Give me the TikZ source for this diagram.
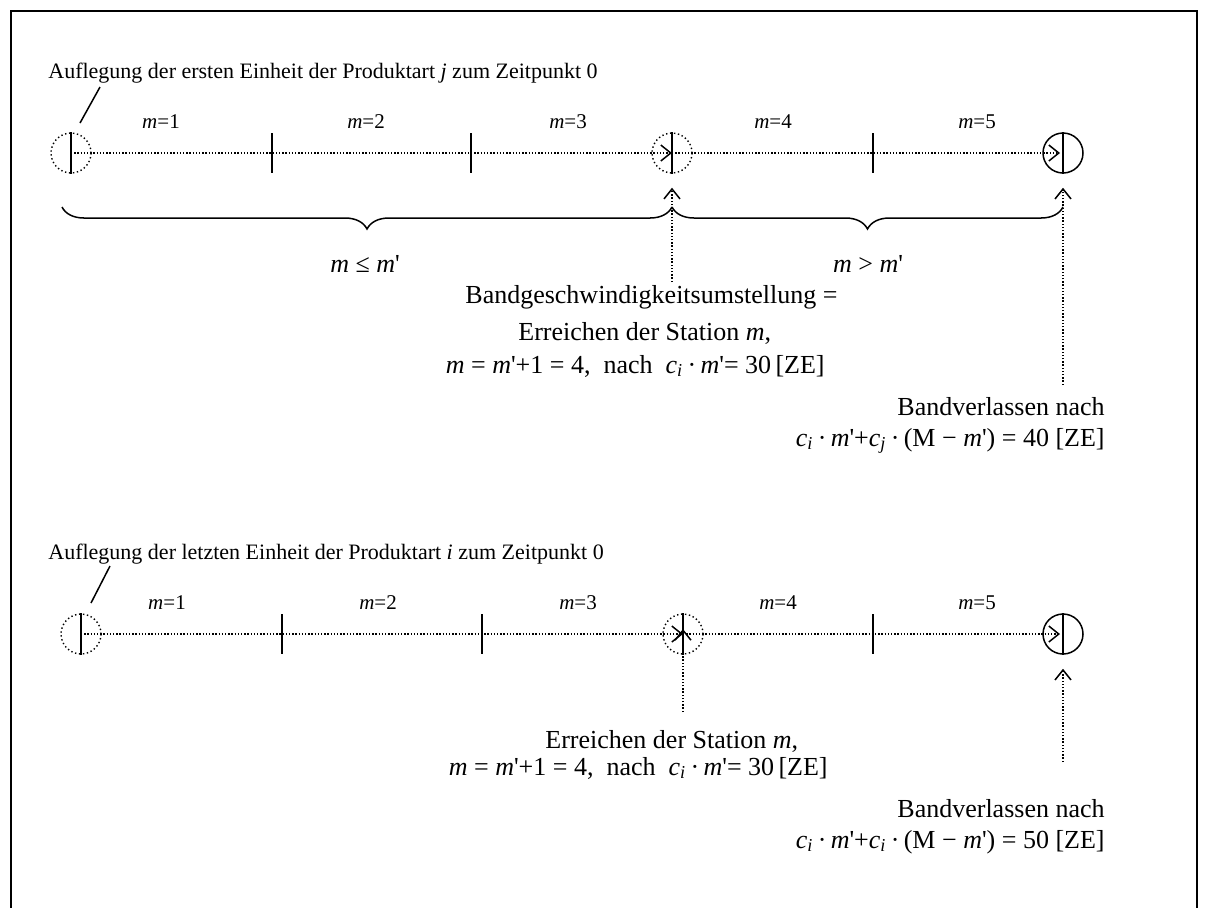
\documentclass[tikz,border=0pt]{standalone}
\usepackage{fontspec}
\setmainfont{Liberation Serif}[Ligatures=TeXOff]
\usetikzlibrary{arrows.meta,decorations.pathreplacing}
\newcommand\mi[1]{\textit{#1}}
\newcommand\subi[1]{\textsubscript{\textit{#1}}}
\begin{document}
\begin{tikzpicture}[x=0.5pt,y=-0.5pt,
  solidline/.style={line width=0.75pt},
  dotline/.style={line width=0.7pt, dash pattern=on 0.7pt off 0.9pt},
  dotcirc/.style={circle, draw, line width=0.7pt, dash pattern=on 0.7pt off 1.3pt,
    minimum size=20pt, inner sep=0pt},
  solidcirc/.style={circle, draw, line width=0.75pt, minimum size=20pt, inner sep=0pt},
  barb/.style={-{Straight Barb[length=5pt,width=8pt,line width=0.75pt]}},
  big/.style={font=\fontsize{13}{15}\selectfont, inner sep=0pt},
  small/.style={font=\fontsize{10.5}{12}\selectfont, inner sep=0pt},
  caption/.style={font=\fontsize{11}{13}\selectfont, inner sep=0pt},
  tick/.style={solidline},
  curly/.style={solidline, decorate, decoration={brace, mirror, amplitude=11pt}},
]
\useasboundingbox (0,0) rectangle (1208,907);
\draw[line width=1pt] (11,930) -- (11,11) -- (1197,11) -- (1197,930);

% ---------- upper line: first unit of product j ----------
\node[caption, anchor=base west] (capA) at (48,78)
  {Auflegung der ersten Einheit der Produktart \mi{j} zum Zeitpunkt 0};
\coordinate (slA1) at (100,87);
\coordinate (slA2) at (80,123);
\draw[solidline] (slA1) -- (slA2);

\node[dotcirc] (a0) at (71,153) {};
\node[dotcirc] (a3) at (672,153) {};
\node[solidcirc] (a5) at (1063,153) {};
\coordinate (a1) at (272,153);
\coordinate (a2) at (471,153);
\coordinate (a4) at (873,153);

\draw[dotline, barb] (a0.center) -- (a3.center);
\draw[dotline, barb] (a3.center) -- ([xshift=-1.5pt]a5.center);
\foreach \n in {a0,a3,a5} \draw[solidline] (\n.north) -- (\n.south);
\foreach \n in {a1,a2,a4} \draw[tick] (\n) ++(0,-20) -- ++(0,40);

\node[small, anchor=base] (la1) at (161,128) {\mi{m}=1};
\node[small, anchor=base] (la2) at (366,128) {\mi{m}=2};
\node[small, anchor=base] (la3) at (568,128) {\mi{m}=3};
\node[small, anchor=base] (la4) at (773,128) {\mi{m}=4};
\node[small, anchor=base] (la5) at (977,128) {\mi{m}=5};

\coordinate (brA0) at (62,207);
\coordinate (brA1) at (672,207);
\coordinate (brA2) at (1063,207);
\draw[curly] (brA0) -- (brA1);
\draw[curly] (brA1) -- (brA2);
\node[big, anchor=base] (leA) at (365,272) {\mi{m} ≤ \mi{m}'};
\node[big, anchor=base] (gtA) at (868,272) {\mi{m} > \mi{m}'};

\coordinate (upA3) at (672,282);
\draw[dotline, barb] (upA3) -- ([yshift=-7pt]a3.south);
\node[big, anchor=base west] (tA1) at (465,303) {Bandgeschwindigkeitsumstellung =};
\node[big, anchor=base west] (tA2) at (518,340) {Erreichen der Station \mi{m},};
\node[big, anchor=base east] (tA3) at (825,373)
  {\mi{m} = \mi{m}'+1 = 4,\ \ nach\ \ \mi{c}\subi{i}\,·\,\mi{m}'= 30\,[ZE]};

\coordinate (upA5) at (1063,385);
\draw[dotline, barb] (upA5) -- ([yshift=-7pt]a5.south);
\node[big, anchor=base east] (vA1) at (1105,415) {Bandverlassen nach};
\node[big, anchor=base east] (vA2) at (1105,446)
  {\mi{c}\subi{i}\,·\,\mi{m}'+\mi{c}\subi{j}\,·\,(M − \mi{m}') = 40 [ZE]};

% ---------- lower line: last unit of product i ----------
\node[caption, anchor=base west] (capB) at (48,559)
  {Auflegung der letzten Einheit der Produktart \mi{i} zum Zeitpunkt 0};
\coordinate (slB1) at (110,566);
\coordinate (slB2) at (91,603);
\draw[solidline] (slB1) -- (slB2);

\node[dotcirc] (b0) at (81,634) {};
\node[dotcirc] (b3) at (683,634) {};
\node[solidcirc] (b5) at (1063,634) {};
\coordinate (b1) at (282,634);
\coordinate (b2) at (482,634);
\coordinate (b4) at (873,634);

\draw[dotline, barb] (b0.center) -- (b3.center);
\draw[dotline, barb] (b3.center) -- ([xshift=-1.5pt]b5.center);
\foreach \n in {b0,b3,b5} \draw[solidline] (\n.north) -- (\n.south);
\foreach \n in {b1,b2,b4} \draw[tick] (\n) ++(0,-20) -- ++(0,40);

\node[small, anchor=base] (lb1) at (167,609) {\mi{m}=1};
\node[small, anchor=base] (lb2) at (378,609) {\mi{m}=2};
\node[small, anchor=base] (lb3) at (578,609) {\mi{m}=3};
\node[small, anchor=base] (lb4) at (778,609) {\mi{m}=4};
\node[small, anchor=base] (lb5) at (977,609) {\mi{m}=5};

\coordinate (upB3) at (683,712);
\draw[dotline, barb] (upB3) -- ([yshift=2.5pt]b3.center);
\node[big, anchor=base west] (tB2) at (545,748) {Erreichen der Station \mi{m},};
\node[big, anchor=base east] (tB3) at (828,775)
  {\mi{m} = \mi{m}'+1 = 4,\ \ nach\ \ \mi{c}\subi{i}\,·\,\mi{m}'= 30\,[ZE]};

\coordinate (upB5) at (1063,762);
\draw[dotline, barb] (upB5) -- ([yshift=-7pt]b5.south);
\node[big, anchor=base east] (vB1) at (1105,817) {Bandverlassen nach};
\node[big, anchor=base east] (vB2) at (1105,848)
  {\mi{c}\subi{i}\,·\,\mi{m}'+\mi{c}\subi{i}\,·\,(M − \mi{m}') = 50 [ZE]};
\end{tikzpicture}
\end{document}
